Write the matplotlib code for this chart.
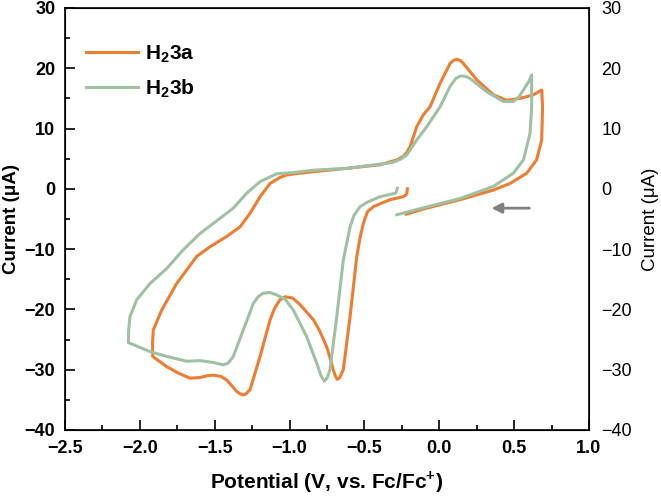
import matplotlib
matplotlib.use("Agg")
import matplotlib.pyplot as plt
from matplotlib.ticker import MultipleLocator

plt.rcParams['font.family'] = ['Liberation Sans', 'DejaVu Sans']
plt.rcParams['mathtext.fontset'] = 'custom'
plt.rcParams['mathtext.rm'] = 'Liberation Sans'
plt.rcParams['mathtext.bf'] = 'Liberation Sans:bold'

# H2 3a: potential (V vs Fc/Fc+) and current (uA)
pot_3a = [-0.213, -0.218, -0.24, -0.33, -0.44, -0.48, -0.507, -0.53, -0.551, -0.596,
          -0.641, -0.665, -0.681, -0.695, -0.708, -0.73, -0.752, -0.80, -0.841, -0.93,
          -0.98, -1.03, -1.064, -1.10, -1.13, -1.197, -1.264, -1.29, -1.309, -1.33,
          -1.353, -1.42, -1.46, -1.509, -1.55, -1.598, -1.665, -1.74, -1.82, -1.914,
          -1.915, -1.91, -1.854, -1.754, -1.62, -1.531, -1.42, -1.331, -1.264, -1.197,
          -1.13, -1.064, -1.019, -0.93, -0.841, -0.618, -0.396, -0.284, -0.24, -0.218,
          -0.195, -0.151, -0.106, -0.062, 0.005, 0.072, 0.095, 0.116, 0.14, 0.161,
          0.25, 0.361, 0.45, 0.539, 0.628, 0.684, 0.69, 0.684, 0.65, 0.584,
          0.473, 0.361, 0.139, -0.084, -0.22]
cur_3a = [0.0, -0.9, -1.3, -1.8, -2.95, -3.8, -5.7, -8.2, -11.2, -21.2,
          -30.0, -31.3, -31.6, -31.0, -30.0, -28.0, -26.2, -23.5, -21.7, -19.2,
          -18.1, -17.9, -18.4, -19.8, -21.7, -27.8, -33.3, -34.0, -34.2, -34.0,
          -33.6, -31.7, -31.1, -30.9, -31.0, -31.3, -31.4, -30.6, -29.5, -27.8,
          -25.5, -23.4, -20.1, -15.7, -11.2, -9.6, -7.9, -6.3, -4.05, -1.3,
          0.9, 1.9, 2.3, 2.6, 2.85, 3.4, 4.0, 4.8, 5.4, 6.0,
          7.0, 10.3, 12.3, 13.6, 17.5, 20.8, 21.3, 21.5, 21.3, 20.8,
          18.1, 15.6, 14.7, 15.0, 15.6, 16.4, 13.6, 8.1, 4.8, 2.6,
          0.9, -0.2, -1.8, -3.2, -4.2]

# H2 3b
pot_3b = [-0.28, -0.29, -0.396, -0.48, -0.529, -0.57, -0.596, -0.641, -0.685, -0.73,
          -0.75, -0.768, -0.79, -0.819, -0.886, -0.975, -1.03, -1.086, -1.13, -1.175,
          -1.21, -1.242, -1.309, -1.376, -1.41, -1.442, -1.509, -1.598, -1.687, -1.82,
          -1.932, -2.077, -2.075, -2.066, -2.021, -1.932, -1.82, -1.71, -1.598, -1.465,
          -1.376, -1.286, -1.197, -1.086, -0.975, -0.841, -0.618, -0.396, -0.307, -0.26,
          -0.218, -0.151, -0.084, 0.005, 0.072, 0.11, 0.139, 0.17, 0.206, 0.317,
          0.428, 0.495, 0.53, 0.562, 0.60, 0.617, 0.617, 0.606, 0.562, 0.495,
          0.361, 0.139, -0.084, -0.284]
cur_3b = [0.1, -0.7, -1.3, -2.2, -2.95, -4.4, -6.3, -11.8, -21.2, -30.0,
          -31.4, -31.9, -31.0, -28.9, -24.5, -20.1, -18.3, -17.6, -17.2, -17.3,
          -17.9, -19.0, -23.4, -27.8, -28.9, -29.2, -28.8, -28.5, -28.6, -27.8,
          -27.0, -25.5, -23.5, -21.2, -18.4, -15.7, -13.2, -10.1, -7.4, -4.9,
          -3.2, -0.7, 1.2, 2.5, 2.7, 3.1, 3.4, 4.1, 4.4, 4.9,
          5.6, 8.1, 10.3, 13.6, 17.0, 18.3, 18.7, 18.7, 18.3, 16.1,
          14.5, 14.5, 15.2, 16.4, 17.9, 18.9, 13.6, 9.2, 4.8, 2.6,
          0.4, -1.6, -3.0, -4.3]

labels = ['H$_\\mathbf{2}$3a', 'H$_\\mathbf{2}$3b']
colors = ['#ED7D31', '#9FC1A2']

# scan direction arrow
arrow_start = (0.62, -3.2)
arrow_end = (0.33, -3.2)

fig = plt.figure(figsize=(6.61, 4.96), dpi=100)
fig.subplots_adjust(left=65/661, right=589/661, top=1-8/496, bottom=1-430/496)
ax = fig.add_subplot(111)

ax.plot(pot_3a, cur_3a, color=colors[0], lw=2.2, label=labels[0], solid_joinstyle='round')
ax.plot(pot_3b, cur_3b, color=colors[1], lw=2.2, label=labels[1], solid_joinstyle='round')

ax.annotate('', xy=arrow_end, xytext=arrow_start,
            arrowprops=dict(arrowstyle='-|>', color='#808080', lw=2, mutation_scale=15))

ax.set_xlim(-2.5, 1.0)
ax.set_ylim(-40, 30)
ax.xaxis.set_major_locator(MultipleLocator(0.5))
ax.xaxis.set_minor_locator(MultipleLocator(0.25))
ax.yaxis.set_major_locator(MultipleLocator(10))
ax.yaxis.set_minor_locator(MultipleLocator(5))
ax.tick_params(which='major', direction='in', length=7, width=1.2, labelsize=13, pad=7)
ax.tick_params(which='minor', direction='in', length=3.5, width=1.2)
for lab in ax.get_xticklabels() + ax.get_yticklabels():
    lab.set_fontweight('bold')
for sp in ax.spines.values():
    sp.set_linewidth(1.2)

ax.set_xlabel('Potential (V, vs. Fc/Fc$^\\mathbf{+}$)', fontsize=15, fontweight='bold', labelpad=9)
ax.set_ylabel('Current (μA)', fontsize=13.5, fontweight='bold', labelpad=3)

ax2 = ax.twinx()
ax2.set_ylim(-40, 30)
ax2.yaxis.set_major_locator(MultipleLocator(10))
ax2.tick_params(axis='y', length=0, labelsize=13, pad=9)
ax2.set_ylabel('Current (μA)', fontsize=13.5, labelpad=7)

ax.legend(loc='upper left', bbox_to_anchor=(0.005, 0.96), frameon=False,
          prop={'size': 15, 'weight': 'bold'}, handlelength=2.5,
          handletextpad=0.3, labelspacing=0.6)

fig.savefig('out.png', dpi=100)
